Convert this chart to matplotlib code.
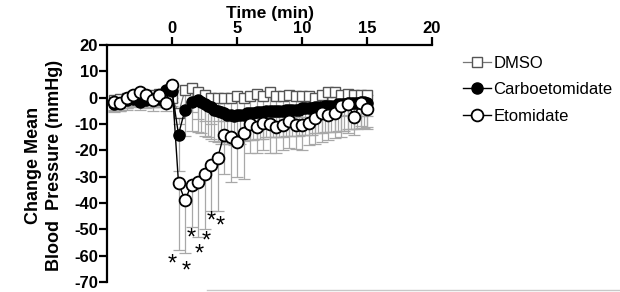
import matplotlib.pyplot as plt
from matplotlib.lines import Line2D

plt.rcParams['font.family'] = ['Liberation Sans', 'DejaVu Sans']

# time points (min)
pre_t = [-4.5, -4, -3.5, -3, -2.5, -2, -1.5, -1, -0.5, 0]
post_t = [0.5, 1, 1.5, 2, 2.5, 3, 3.5, 4, 4.5, 5, 5.5, 6, 6.5, 7, 7.5, 8,
          8.5, 9, 9.5, 10, 10.5, 11, 11.5, 12, 12.5, 13, 13.5, 14, 14.5, 15]

# DMSO
dmso_t = pre_t + post_t
dmso_y = [-1, -0.5, 0, 0.5, 1, 0.5, 1, 1.5, 0.5, 0,
          -6, 3, 3.5, 2, 1, 0, 0, 0, 0, 0.5, 0, 0.5, 1.5, 0.5, 2, 0.5,
          0.5, 1, 0.5, 0.5, 0.5, 0, 1, 2, 2, 1, 1.5, 1, 1, 1]
dmso_err = [4, 4, 4.5, 4, 3.5, 4, 4.5, 4.5, 4, 3,
            4, 8, 9, 10, 10, 10, 9, 9, 9, 8, 8, 8, 8, 8, 8, 8,
            8, 8, 8, 8, 8, 8, 8, 8, 8, 8, 8, 8, 8, 8]

# Carboetomidate
carbo_t = pre_t + [0.5, 1, 1.5, 2, 2.25, 2.5, 2.75, 3, 3.25, 3.5, 3.75, 4,
                   4.25, 4.5, 4.75, 5, 5.25, 5.5, 5.75, 6, 6.25, 6.5, 6.75,
                   7, 7.25, 7.5, 7.75, 8, 8.25, 8.5, 8.75, 9, 9.25, 9.5,
                   9.75, 10, 10.25, 10.5, 10.75, 11, 11.25, 11.5, 11.75, 12,
                   12.25, 12.5, 12.75, 13, 13.25, 13.5, 13.75, 14, 14.25,
                   14.5, 14.75, 15]
carbo_y = [-2.5, -2, -1, -0.5, -1.5, -1, -0.5, -0.5, 3, 2.5,
           -14, -4.5, -1.5, -1, -1.5, -2.5, -3, -3.5, -4.5, -5, -5.5, -6,
           -6.5, -6.5, -7, -6.5, -6.5, -6.5, -6, -6, -6, -5.5, -5.5,
           -5.5, -5, -5, -5, -5, -5, -5, -4.5, -4.5, -4.5, -4.5, -4.5,
           -4, -4, -4, -4, -3.5, -3.5, -3.5, -3, -3, -3, -3, -2.5,
           -2.5, -2.5, -2, -2, -2, -2, -1.5, -1.5, -2]
carbo_err = [3, 3, 3, 3, 3, 3, 3, 3, 4, 4,
             14, 10, 11, 12, 12, 12, 12, 12, 12, 12, 12, 11, 11, 11, 11,
             11, 11, 10, 10, 10, 10, 10, 10, 10, 10, 10, 10, 10, 10, 10,
             10, 10, 10, 10, 10, 10, 10, 10, 10, 10, 10, 10, 10, 10, 10,
             10, 10, 10, 10, 10, 10, 10, 10, 10, 10, 10]

# Etomidate
eto_t = pre_t + post_t
eto_y = [-1.5, -2, 0, 1, 2, 1, -1, 1, -2, 5,
         -32.5, -39, -33, -32, -29, -25.5, -23, -14, -15, -17, -13.5,
         -10, -11, -9.5, -10, -11, -10.5, -9, -10.5, -10.3, -9.5, -7.6,
         -5.7, -6.5, -5.7, -3, -2.3, -7.2, -1.9, -4.2]
eto_err = [3, 3, 4, 4, 5, 4.5, 4, 4.5, 3, 2,
           25.5, 20, 16, 21, 21, 17.5, 20, 15, 17, 13, 17.5,
           11, 10, 10.5, 11, 10, 9.5, 10, 9, 9.5, 8.5, 10,
           11, 9.5, 9.5, 12, 11, 7, 9, 7]

# significance stars (time, height)
star_t = [0.0, 1.1, 1.5, 2.1, 2.65, 3.05, 3.7]
star_y = [-63.5, -66, -53.5, -59.5, -54.5, -47, -49]

fig = plt.figure(figsize=(6.2, 2.92), dpi=100)
ax = fig.add_axes([0.1726, 0.0342, 0.5242, 0.8116])

ecol = '#a8a8a8'
zeros = lambda v: [0] * len(v)

ax.errorbar(dmso_t, dmso_y, yerr=[dmso_err, zeros(dmso_err)], fmt='none',
            ecolor=ecol, elinewidth=0.9, capsize=4, capthick=0.9, zorder=1)
ax.errorbar(carbo_t, carbo_y, yerr=[carbo_err, zeros(carbo_err)], fmt='none',
            ecolor=ecol, elinewidth=0.9, capsize=4, capthick=0.9, zorder=1)
ax.errorbar(eto_t, eto_y, yerr=[eto_err, zeros(eto_err)], fmt='none',
            ecolor=ecol, elinewidth=0.9, capsize=4, capthick=0.9, zorder=1)

ax.plot(dmso_t, dmso_y, '-', color='#777777', lw=0.9, marker='s', ms=6.5,
        mfc='white', mec='#555555', mew=1.0, zorder=3, label='DMSO')
ax.plot(carbo_t, carbo_y, '-', color='black', lw=1.0, marker='o', ms=8,
        mfc='black', mec='black', zorder=4, label='Carboetomidate')
ax.plot(eto_t, eto_y, '-', color='black', lw=1.0, marker='o', ms=8.5,
        mfc='white', mec='black', mew=1.3, zorder=5, label='Etomidate')

for t, y in zip(star_t, star_y):
    ax.text(t, y, '*', fontsize=17, ha='center', va='center')

ax.set_xlim(-5, 20)
ax.set_ylim(-70, 20)
ax.xaxis.tick_top()
ax.xaxis.set_label_position('top')
ax.set_xticks([0, 5, 10, 15, 20])
ax.set_yticks(range(-70, 21, 10))
ax.set_yticklabels([str(v) for v in range(-70, 21, 10)])
ax.spines['right'].set_visible(False)
ax.spines['bottom'].set_visible(False)
for s in ['left', 'top']:
    ax.spines[s].set_linewidth(1.6)
ax.tick_params(width=1.6, length=6, labelsize=12, pad=0.5)
for lab in ax.get_xticklabels() + ax.get_yticklabels():
    lab.set_fontweight('bold')

ax.set_xlabel('Time (min)', fontsize=12.5, fontweight='bold', labelpad=2)
fig.text(0.071, 0.435, 'Change Mean\nBlood  Pressure (mmHg)', rotation=90,
         ha='center', va='center', fontsize=13, fontweight='bold',
         linespacing=1.25, multialignment='center')

ax.legend(loc='upper left', bbox_to_anchor=(0.722, 0.86),
          bbox_transform=fig.transFigure, frameon=False, fontsize=12,
          handlelength=1.7, handletextpad=0.15, labelspacing=0.68)

fig.add_artist(Line2D([0.334, 1.0], [0.008, 0.008], color='#c8c8c8',
                      lw=1.0, transform=fig.transFigure))

fig.savefig('out.png', dpi=100)
